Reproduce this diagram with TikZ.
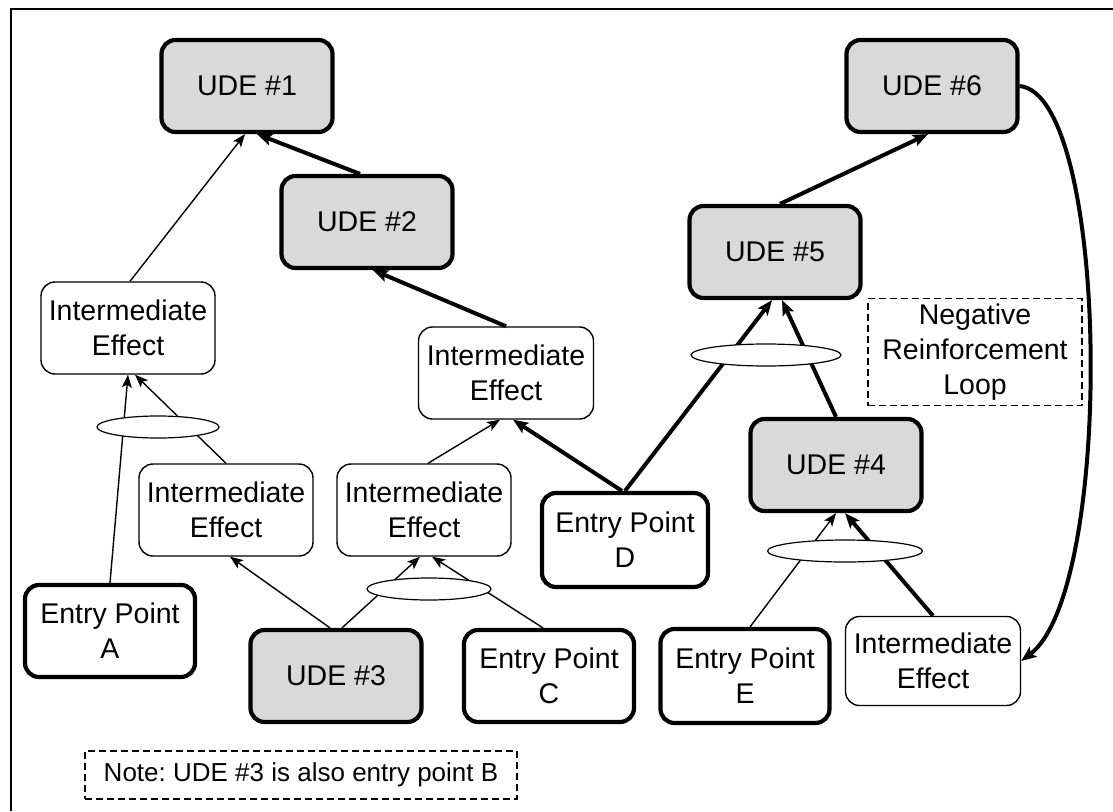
\documentclass[tikz,border=0pt]{standalone}
\usepackage{fontspec}
\setmainfont{Liberation Sans}
\usetikzlibrary{arrows.meta,shapes}
\definecolor{UDEGray}{RGB}{217,217,217}
\frenchspacing

\begin{document}
\begin{tikzpicture}[x=1pt,y=-1pt, black, text=black,
	   every node/.style={font=\fontsize{28.5}{35}\selectfont},
	   crtbox/.style 2 args = {rectangle, rounded corners=14pt, minimum width=171pt,
	                           minimum height=92pt, inner sep=0pt, line width=#1,
	                           draw=black, fill=#2, align=center},
	   andjoin/.style = {ellipse, minimum width=#1, minimum height=22pt, inner sep=0pt,
	                     draw=black, line width=1.2pt, fill=white},
	   notebox/.style 2 args = {rectangle, minimum width=#1, minimum height=#2,
	                            draw=black, line width=1.3pt, dash pattern=on 7pt off 4pt,
	                            align=center},
	   weak/.style = {-{Stealth[length=13pt,width=10pt,inset=3pt]}, line width=1.4pt},
	   strong/.style = {-{Stealth[length=15pt,width=12pt,inset=3pt]}, line width=4pt}]
	\useasboundingbox (0,0) rectangle (1113,811);
	%% Frame
	\draw[line width=1.5pt] (1113,9) -- (11,9) -- (11,811);

	%% Undesirable effects
	\node [crtbox={4.2pt}{UDEGray}] (ude1) at (247,86) {UDE \#1};
	\node [crtbox={4.2pt}{UDEGray}] (ude2) at (367,222) {UDE \#2};
	\node [crtbox={4.2pt}{UDEGray}] (ude3) at (336,676) {UDE \#3};
	\node [crtbox={4.2pt}{UDEGray}] (ude4) at (836,465) {UDE \#4};
	\node [crtbox={4.2pt}{UDEGray}] (ude5) at (775,252) {UDE \#5};
	\node [crtbox={4.2pt}{UDEGray}] (ude6) at (932,86) {UDE \#6};

	%% Intermediate effects
	\node [crtbox={1.4pt}{white},minimum width=174pt] (ie1) at (128,328) {Intermediate\\Effect};
	\node [crtbox={1.4pt}{white},minimum width=174pt] (ie2) at (226,510) {Intermediate\\Effect};
	\node [crtbox={1.4pt}{white},minimum width=175pt] (ie3) at (506,373) {Intermediate\\Effect};
	\node [crtbox={1.4pt}{white},minimum width=174pt] (ie4) at (424,510) {Intermediate\\Effect};
	\node [crtbox={1.4pt}{white},minimum width=175pt,minimum height=89pt] (ie5) at (933,661) {Intermediate\\Effect};

	%% Entry points
	\node [crtbox={4.2pt}{white},minimum width=170pt] (epA) at (110,631) {Entry Point\\A};
	\node [crtbox={4.2pt}{white},minimum width=170pt] (epC) at (549,676) {Entry Point\\C};
	\node [crtbox={4.2pt}{white},minimum width=166pt,minimum height=94pt] (epD) at (625,540) {Entry Point\\D};
	\node [crtbox={4.2pt}{white},minimum width=169pt,minimum height=94pt] (epE) at (745,676) {Entry Point\\E};

	%% Notes
	\node [notebox={214pt}{107pt}] (loop) at (975,352) {Negative\\Reinforcement\\Loop};
	\node [notebox={432pt}{48pt},font=\fontsize{26}{30}\selectfont] (note) at (301,775)
	      {Note: UDE \#3 is also entry point B};

	%% Thin links
	\draw[weak] ([xshift=2pt]ie1.north) -- ([xshift=-2pt]ude1.south);
	\draw[weak] (ie2.north) -- ([xshift=7pt]ie1.south);
	\draw[weak] (epA.north) -- (ie1.south);
	\draw[weak] ([xshift=-6pt]ude3.north) -- ([xshift=4pt]ie2.south);
	\draw[weak] ([xshift=6pt]ude3.north) -- ([xshift=-4pt]ie4.south);
	\draw[weak] ([xshift=-6pt]epC.north) -- ([xshift=8pt]ie4.south);
	\draw[weak] ([xshift=4pt]ie4.north) -- ([xshift=-6pt]ie3.south);
	\draw[weak] ([xshift=5pt]epE.north) -- (ude4.south);
	%% Thick links
	\draw[strong] ([xshift=-7pt]ude2.north) -- ([xshift=10pt]ude1.south);
	\draw[strong] (ie3.north) -- ([xshift=6pt]ude2.south);
	\draw[strong] ([xshift=-3pt]epD.north) -- ([xshift=7pt]ie3.south);
	\draw[strong] (epD.north) -- ([xshift=-3pt]ude5.south);
	\draw[strong] (ude4.north) -- ([xshift=7pt]ude5.south);
	\draw[strong] ([xshift=5pt]ude5.north) -- ([xshift=-4pt]ude6.south);
	\draw[strong] (ie5.north) -- ([xshift=9pt]ude4.south);
	\draw[strong] (ude6.east) .. controls (1110,95) and (1115,590) .. (ie5.east);

	%% AND junctions
	\node [andjoin=122pt] (and1) at (158,427) {};
	\node [andjoin=124pt] (and2) at (429,589) {};
	\node [andjoin=150pt] (and3) at (766,355) {};
	\node [andjoin=155pt] (and4) at (845,551) {};
\end{tikzpicture}
\end{document}
